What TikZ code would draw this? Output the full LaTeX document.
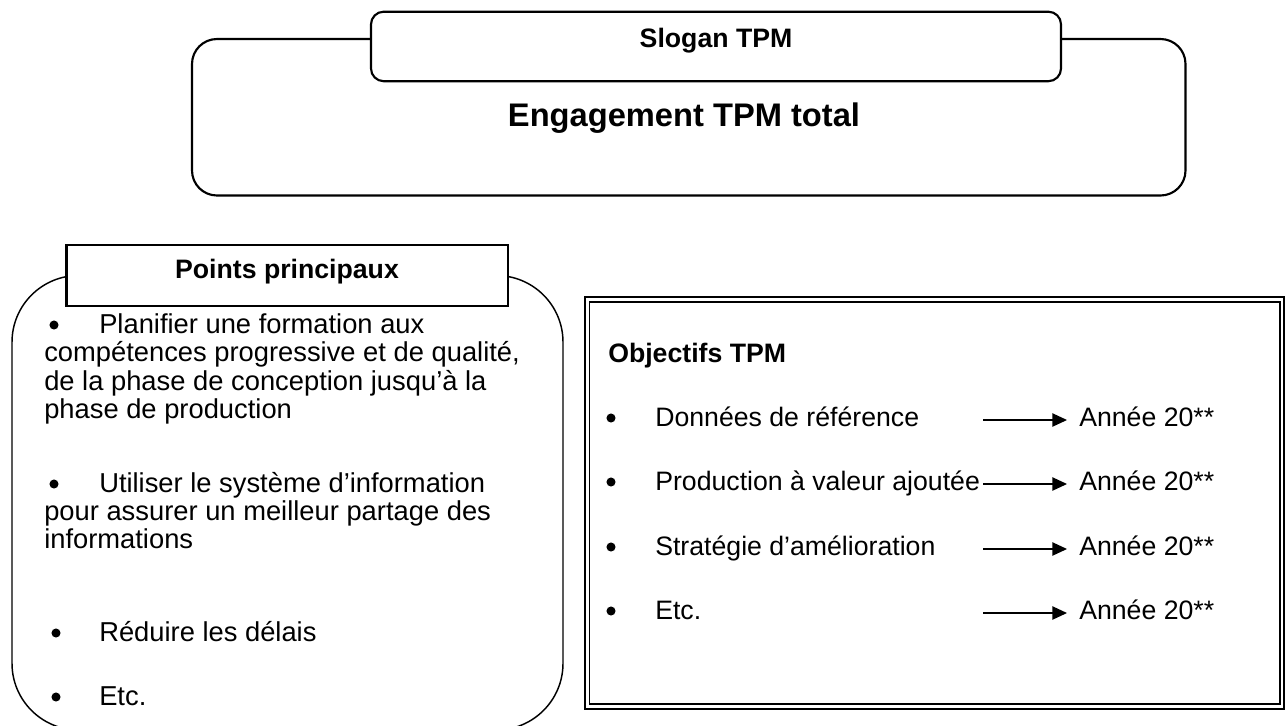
\documentclass[tikz,border=0pt]{standalone}
\usepackage{fontspec}
\setmainfont{Liberation Sans}
\usetikzlibrary{arrows.meta}
\begin{document}
\begin{tikzpicture}[x=0.75pt,y=-0.75pt,
  txt/.style={anchor=base west,inner sep=0pt,font=\fontsize{20}{24}\selectfont},
  ltxt/.style={anchor=base west,inner sep=0pt,font=\fontsize{20.5}{24}\selectfont},
  btxt/.style={anchor=base west,inner sep=0pt,font=\fontsize{20}{24}\selectfont\bfseries},
  ctxt/.style={anchor=base,inner sep=0pt,font=\fontsize{20}{24}\selectfont\bfseries},
  bul/.style={circle,fill=black,inner sep=0pt,minimum size=6.8pt},
  arr/.style={-{Triangle[length=11pt,width=10pt]},line width=1pt,shorten >=9pt},
  boxline/.style={line width=1.6pt},
  thinline/.style={line width=1.1pt}]
\useasboundingbox (0,0) rectangle (1287,725);
% top block
\draw[boxline,rounded corners=18.75pt] (192,39) rectangle (1185.5,195.5);
\draw[boxline,rounded corners=9.5pt,fill=white] (371,11.7) rectangle (1061,81.2);
\node[ctxt] (slogan) at (716,47.3) {Slogan TPM};
\node[anchor=base,inner sep=0pt,font=\fontsize{24.5}{29}\selectfont\bfseries] (engage) at (684,126) {Engagement TPM total};
% left block
\draw[thinline,rounded corners=50pt] (12,275.5) rectangle (563,730);
\draw[boxline,fill=white] (66.5,245) rectangle (508.3,306);
\node[ctxt] (points) at (287,278.3) {Points principaux};
\node[bul] (b1) at (54,325) {};
\node[ltxt] (l1) at (99,333) {Planifier une formation aux};
\node[ltxt] (l2) at (44,361.5) {compétences progressive et de qualité,};
\node[ltxt] (l3) at (44,390) {de la phase de conception jusqu’à la};
\node[ltxt] (l4) at (44,418.5) {phase de production};
\node[bul] (b2) at (54,484) {};
\node[ltxt] (l5) at (99,492) {Utiliser le système d’information};
\node[ltxt] (l6) at (44,520) {pour assurer un meilleur partage des};
\node[ltxt] (l7) at (44,548) {informations};
\node[bul] (b3) at (56,633) {};
\node[ltxt] (l8) at (99,641) {Réduire les délais};
\node[bul] (b4) at (56,697) {};
\node[ltxt] (l9) at (99,705) {Etc.};
% right block
\draw[line width=1.9pt] (585,297) rectangle (1284,709);
\draw[line width=1pt] (589.5,302) rectangle (1280,704);
\node[btxt] (obj) at (608,362) {Objectifs TPM};
\foreach \i/\yy/\t in {1/426/{Données de référence},2/490/{Production à valeur ajoutée},3/555/{Stratégie d’amélioration},4/619/{Etc.}}{
  \node[bul] (rb\i) at (611,\yy-8) {};
  \node[txt] (r\i) at (655,\yy) {\t};
  \node[txt] (an\i) at (1079,\yy) {Année 20**};
  \coordinate (s\i) at (983,\yy-6);
  \draw[arr] (s\i) -- (s\i -| an\i.west);
}
\end{tikzpicture}
\end{document}
